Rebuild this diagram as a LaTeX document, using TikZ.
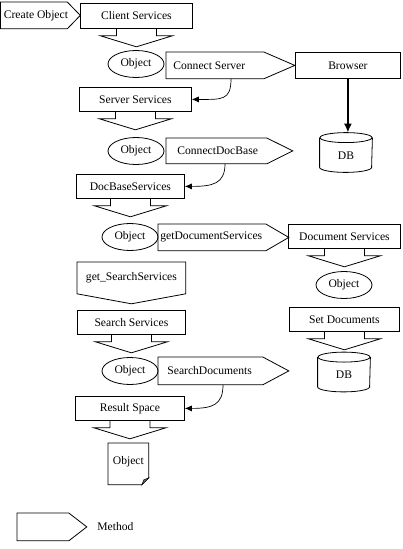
\documentclass[tikz,border=0pt]{standalone}
\usepackage{fontspec}
\setmainfont{Liberation Serif}
\usetikzlibrary{shapes.geometric,arrows.meta,calc}
\newcommand{\blkarr}[1]{%
  \draw ($(#1.south)+(-20,0)$) -- ++(0,7) -- ++(-16,0) -- ($(#1.south)+(0,18)$) -- ($(#1.south)+(36,7)$) -- ++(-16,0) -- ($(#1.south)+(20,0)$);}
\newcommand{\pent}[2]{%
  \draw (#1.north west) -- (#1.north east) -- ($(#1.east)+(#2,0)$) -- (#1.south east) -- (#1.south west) -- cycle;}
\newcommand{\dbcyl}[1]{%
  \draw ($(#1.north west)+(0,5)$) -- ($(#1.south west)+(0,-5)$) arc[start angle=180, end angle=360, x radius=26pt, y radius=5pt] -- ($(#1.north east)+(0,5)$);
  \draw ($(#1.north)+(0,5)$) ellipse[x radius=26pt, y radius=5pt];}
\begin{document}
\begin{tikzpicture}[x=1pt,y=-1pt,
  font=\fontsize{11.6}{13}\selectfont,
  line width=0.8pt,
  box/.style={draw, rectangle, inner sep=0pt, anchor=north west},
  mb/.style={rectangle, inner sep=0pt, anchor=north west},
  txt/.style={inner sep=0pt, anchor=west},
  obj/.style={draw, ellipse, minimum width=56pt, minimum height=27pt, inner sep=0pt},
  db/.style={rectangle, minimum width=52pt, minimum height=39pt, inner sep=0pt, text depth=-6pt},
  curv/.style={-{Latex[length=7pt,width=6pt]}, line width=0.7pt},
]
\useasboundingbox (0,0) rectangle (402,549);

% Create Object method
\node[mb, minimum width=66pt, minimum height=26pt] (co) at (0.5,2) {};
\pent{co}{13}
\node[txt] (cot) at ($(co.west)+(3,0)$) {Create Object};

% Client Services
\node[box, minimum width=112pt, minimum height=25pt] (client) at (80,3) {Client Services};
\blkarr{client}
\node[obj] (ob1) at (136,64) {Object};

% Connect Server
\node[mb, minimum width=97pt, minimum height=26pt] (cs) at (166,52) {};
\pent{cs}{31}
\node[txt] (cst) at ($(cs.west)+(7,0)$) {Connect Server};

% Browser and DB
\node[box, minimum width=105pt, minimum height=26pt] (browser) at (295,52) {Browser};
\node[db] (db1) at (346,152.5) {};
\dbcyl{db1}
\node (db1t) at ($(db1.center)+(0,3)$) {DB};
\draw[line width=2.2pt, -{Latex[length=9pt,width=8pt]}] (browser.south) -- (browser.south |- db1.north);

% Server Services
\node[box, minimum width=112pt, minimum height=24pt] (ss) at (79,87) {Server Services};
\blkarr{ss}
\draw[curv] ($(cs.south west)+(65,0)$) .. controls +(0,22) and +(30,0) .. (ss.east);
\node[obj] (ob2) at (136,151) {Object};

% ConnectDocBase
\node[mb, minimum width=100pt, minimum height=25pt] (cdb) at (166,138) {};
\pent{cdb}{26}
\node[txt] (cdbt) at ($(cdb.west)+(11,0)$) {ConnectDocBase};

% DocBaseServices
\node[box, minimum width=108pt, minimum height=24pt] (dbs) at (76,174) {DocBaseServices};
\blkarr{dbs}
\draw[curv] ($(cdb.south west)+(59,0)$) .. controls +(0,20) and +(28,0) .. (dbs.east);
\node[obj] (ob3) at (130,237) {Object};

% getDocumentServices
\node[mb, minimum width=107pt, minimum height=26pt] (gds) at (158,224) {};
\pent{gds}{23}
\node[txt] (gdst) at ($(gds.west)+(2,0)$) {getDocumentServices};

% Document Services column
\node[box, minimum width=112pt, minimum height=24pt] (docs) at (288,224) {Document Services};
\blkarr{docs}
\node[obj] (ob4) at (344,285) {Object};
\node[box, minimum width=110pt, minimum height=24pt] (setd) at (289,307) {Set Documents};
\blkarr{setd}
\node[db] (db2) at (344,372) {};
\dbcyl{db2}
\node (db2t) at ($(db2.center)+(0,3)$) {DB};

% get_SearchServices
\node[mb, minimum width=108pt, minimum height=31pt] (gss) at (77,262) {get\_SearchServices};
\draw (gss.north west) -- (gss.north east) -- (gss.south east) -- ($(gss.south)+(0,10)$) -- (gss.south west) -- cycle;

% Search Services
\node[box, minimum width=108pt, minimum height=24pt] (srch) at (77,310) {Search Services};
\blkarr{srch}
\node[obj] (ob5) at (130,371) {Object};

% SearchDocuments
\node[mb, minimum width=104pt, minimum height=27pt] (sd) at (158,357) {};
\pent{sd}{26}
\node[txt] (sdt) at ($(sd.west)+(9,0)$) {SearchDocuments};

% Result Space
\node[box, minimum width=109pt, minimum height=24pt] (rs) at (75,396) {Result Space};
\blkarr{rs}
\draw[curv] ($(sd.south west)+(65,0)$) .. controls +(0,20) and +(28,0) .. (rs.east);

% Object document
\node[mb, minimum width=40pt, minimum height=41pt] (res) at (108,443) {};
\draw (res.north west) -- (res.north east) -- ($(res.south east)+(0,-7)$) -- ($(res.south east)+(-7,0)$) -- (res.south west) -- cycle;
\filldraw[fill=black!60, line width=0.5pt] ($(res.south east)+(0,-7)$) -- ($(res.south east)+(-7,0)$) -- ($(res.south east)+(-5,-5)$) -- cycle;
\node[inner sep=0pt] (rest) at ($(res.center)+(0,-2)$) {Object};

% Legend
\node[mb, minimum width=51pt, minimum height=27pt] (lg) at (17,513) {};
\pent{lg}{18}
\node[txt] (lgt) at (97,527) {Method};
\end{tikzpicture}
\end{document}
